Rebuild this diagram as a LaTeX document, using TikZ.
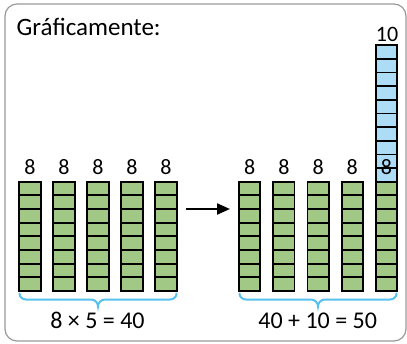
\documentclass[tikz,border=0pt]{standalone}
\usepackage{fontspec}
\setmainfont{Carlito}
\usetikzlibrary{arrows.meta}
\definecolor{bargreen}{RGB}{161,200,132}
\definecolor{barblue}{RGB}{173,220,247}
\definecolor{bracecol}{RGB}{86,192,238}
\begin{document}
\begin{tikzpicture}[x=1pt, y=-1pt, every node/.style={font=\fontsize{22}{24}\selectfont, inner sep=0pt},
  cell/.style={draw=black, line width=1.8pt},
  brace/.style={draw=bracecol, line width=2pt, line cap=round}]
\useasboundingbox (0,0) rectangle (407,343);
\draw[black!40, line width=1.2pt, rounded corners=12pt] (5,4) rectangle (406,341);
\node[anchor=base west, font=\fontsize{25}{27}\selectfont] (title) at (16.5,35.5) {Gráficamente:};
% left group: 5 x 8
\foreach \i in {0,...,4} {
  \foreach \k in {0,...,7}
    \filldraw[cell, fill=bargreen] (19.3+34*\i, 291-13.66*\k) rectangle ++(21.3,-13.66);
  \node[anchor=base] (l\i) at (30+34*\i, 174.3) {8};
}
% right group: 4 x 8, then 8 + 10
\foreach \i in {0,...,4} {
  \foreach \k in {0,...,7}
    \filldraw[cell, fill=bargreen] (239+34.2*\i, 291-13.66*\k) rectangle ++(21.3,-13.66);
}
\foreach \k in {8,...,17}
  \filldraw[cell, fill=barblue] (375.8, 291-13.66*\k) rectangle ++(21.3,-13.66);
\foreach \i in {0,...,4}
  \node[anchor=base] (r\i) at (249.7+34.2*\i, 174.3) {8};
\node[anchor=base] (ten) at (387,41.7) {10};
% arrow
\coordinate (a1) at (186,209); \coordinate (a2) at (230,209);
\draw[-{Triangle[length=13pt,width=11pt]}, line width=2.2pt] (a1) -- (a2);
% braces
\draw[brace] (19.5,293.5) to[out=-90,in=180] (26,299.5) -- (91,299.5) to[out=0,in=90] (98,306.5)
  to[out=90,in=180] (105,299.5) -- (170,299.5) to[out=0,in=-90] (176.5,293.5);
\draw[brace] (239.5,293.5) to[out=-90,in=180] (246,299.5) -- (311,299.5) to[out=0,in=90] (318,306.5)
  to[out=90,in=180] (325,299.5) -- (390,299.5) to[out=0,in=-90] (396.5,293.5);
\node[anchor=base, font=\fontsize{24}{26}\selectfont] (eqL) at (97.5,328.3) {8 × 5 = 40};
\node[anchor=base, font=\fontsize{24}{26}\selectfont] (eqR) at (317.7,328.3) {40 + 10 = 50};
\end{tikzpicture}
\end{document}
